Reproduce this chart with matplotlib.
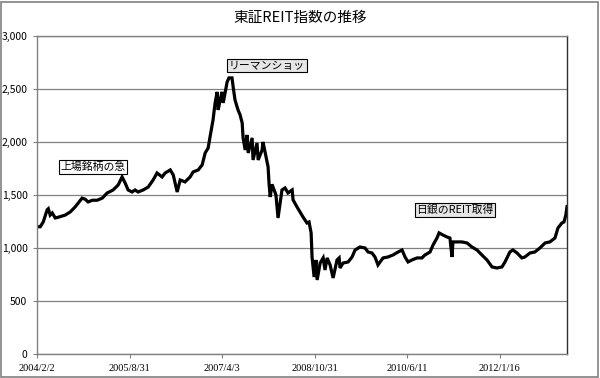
# 東証REIT指数の推移
import matplotlib
matplotlib.use('Agg')
import matplotlib.pyplot as plt
from matplotlib.patches import Rectangle

plt.rcParams['font.family'] = ['Noto Sans CJK JP', 'DejaVu Sans']

# data (trading-day index, index level)
day = [0, 13, 26, 43, 48, 56, 65, 78, 91, 121, 143, 164, 194, 207, 220, 238, 259, 281,
       302, 328, 350, 367, 380, 393, 410, 423, 436, 458, 480, 501, 518, 540, 553, 575,
       588, 605, 618, 639, 661, 674, 696, 713, 726, 739, 747, 760, 769, 778, 782, 791,
       799, 804, 812, 821, 829, 842, 847, 855, 868, 877, 886, 890, 899, 907, 912, 929,
       933, 950, 955, 972, 976, 989, 998, 1002, 1007, 1015, 1024, 1032, 1041, 1050,
       1058, 1071, 1084, 1102, 1106, 1123, 1136, 1149, 1166, 1175, 1184, 1188, 1197,
       1205, 1210, 1223, 1236, 1244, 1253, 1266, 1279, 1296, 1305, 1309, 1322, 1344,
       1361, 1374, 1395, 1417, 1430, 1447, 1460, 1473, 1482, 1495, 1516, 1538, 1560,
       1577, 1590, 1603, 1620, 1642, 1663, 1676, 1698, 1711, 1728, 1737, 1754, 1771,
       1784, 1793, 1797, 1819, 1836, 1858, 1879, 1901, 1922, 1944, 1966, 1987, 2009,
       2022, 2043, 2056, 2074, 2095, 2108, 2130, 2151, 2173, 2195, 2216, 2238, 2251,
       2268, 2277, 2285, 2290]
reit = [1200, 1200, 1245, 1360, 1370, 1310, 1330, 1283, 1290, 1310, 1340, 1387, 1470,
        1460, 1434, 1450, 1450, 1470, 1518, 1547, 1594, 1670, 1613, 1547, 1528, 1547,
        1528, 1547, 1575, 1641, 1707, 1670, 1707, 1736, 1689, 1528, 1641, 1623, 1670,
        1717, 1736, 1783, 1896, 1943, 2047, 2207, 2368, 2472, 2302, 2396, 2472, 2368,
        2462, 2566, 2604, 2604, 2519, 2396, 2302, 2255, 2179, 2038, 1924, 2066, 1896,
        2038, 1830, 1990, 1830, 1924, 2000, 1858, 1764, 1613, 1481, 1600, 1547, 1500,
        1283, 1425, 1547, 1566, 1519, 1547, 1453, 1387, 1340, 1292, 1236, 1245, 1142,
        915, 726, 887, 698, 858, 906, 792, 906, 840, 717, 887, 906, 811, 858, 868, 915,
        981, 1009, 1000, 962, 953, 915, 840, 868, 906, 915, 934, 962, 981, 915, 868,
        887, 906, 906, 934, 962, 1028, 1094, 1142, 1122, 1104, 1094, 915, 1057, 1057,
        1057, 1047, 1009, 981, 934, 887, 821, 811, 821, 868, 962, 981, 953, 906, 915,
        953, 962, 1000, 1047, 1057, 1094, 1189, 1236, 1245, 1311, 1390]

tick_days = [0, 400, 800, 1200, 1600, 2000]
tick_labels = ['2004/2/2', '2005/8/31', '2007/4/3', '2008/10/31', '2010/6/11', '2012/1/16']
y_ticks = [0, 500, 1000, 1500, 2000, 2500, 3000]

fig = plt.figure(figsize=(6, 3.78), dpi=100)
ax = fig.add_axes([0.062, 0.0635, 0.883, 0.8415])

ax.plot(day, reit, color='black', linewidth=2.3, solid_joinstyle='miter')

ax.set_xlim(0, 2290)
ax.set_ylim(0, 3000)
ax.set_yticks(y_ticks)
ax.set_yticklabels(['{:,}'.format(v) for v in y_ticks], fontsize=7.5)
ax.set_xticks(tick_days)
ax.set_xticklabels(tick_labels, fontsize=7.5, family='Liberation Serif')
ax.tick_params(direction='out', length=3, width=0.8, color='#808080', pad=4)
ax.yaxis.grid(True, color='#808080', linewidth=0.9)
ax.set_axisbelow(True)
for s in ['left', 'bottom']:
    ax.spines[s].set_color('#808080')
ax.spines['top'].set_color('#808080')
ax.spines['right'].set_color('#303030')
for s in ax.spines.values():
    s.set_linewidth(1.0)

fig.text(0.5, 0.952, '東証REIT指数の推移', ha='center', va='center', fontsize=10.5)

box_w = dict(boxstyle='square,pad=0.15', fc='white', ec='black', lw=0.8)
box_g = dict(boxstyle='square,pad=0.15', fc='#e6e6e6', ec='black', lw=0.8)
ax.text(242, 1765, '上場銘柄の急', fontsize=7.8, ha='center', va='center', bbox=box_w)
ax.text(993, 2720, 'リーマンショッ', fontsize=7.8, ha='center', va='center', bbox=box_g)
ax.text(1806, 1360, '日銀のREIT取得', fontsize=7.8, ha='center', va='center', bbox=box_g)

fig.patches.append(Rectangle((0.002, 0.003), 0.995, 0.993, transform=fig.transFigure,
                             fill=False, ec='#808080', lw=1.2))

fig.savefig('out.png', dpi=100)
